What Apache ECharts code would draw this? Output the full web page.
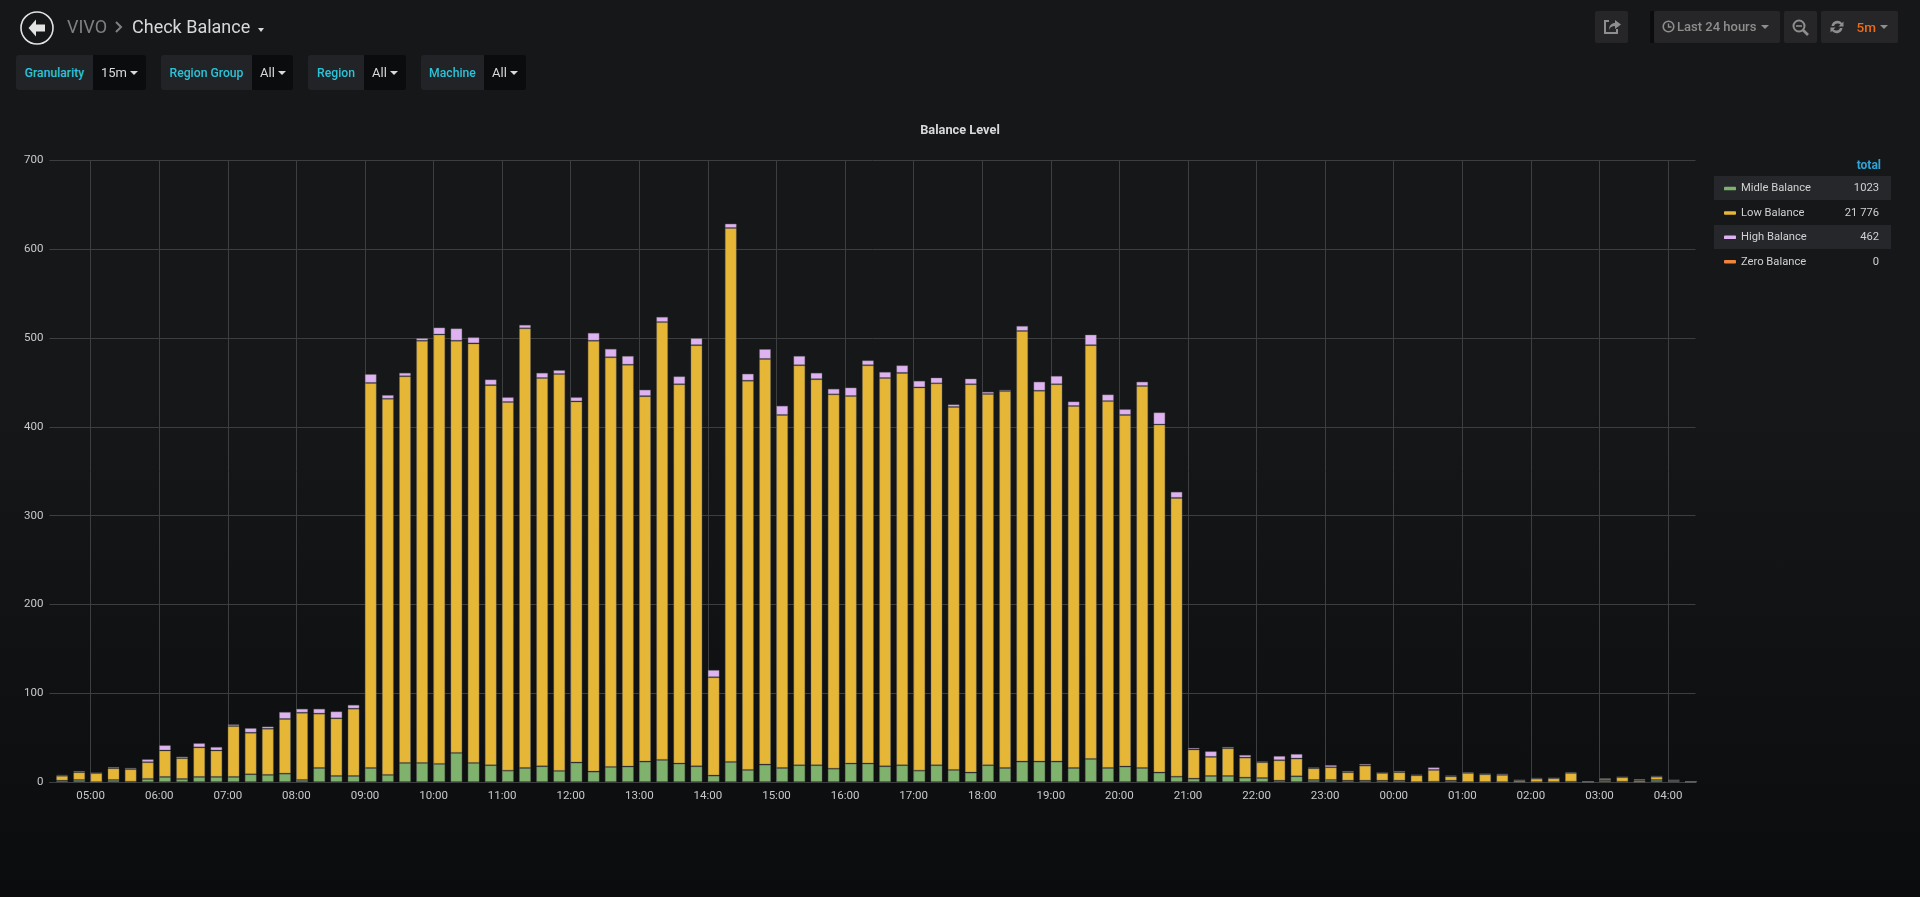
<!DOCTYPE html>
<html><head><meta charset="utf-8"><title>Check Balance</title>
<script src="https://cdn.jsdelivr.net/npm/echarts@6/dist/echarts.min.js"></script>
<style>
html,body{margin:0;padding:0;width:1920px;height:897px;overflow:hidden;background:linear-gradient(#161719 0,#161719 45%,#0b0c0e 100%);font-family:Roboto,sans-serif}
#chart{position:absolute;left:0;top:0;width:1920px;height:897px}
.a{position:absolute;white-space:nowrap}
.btn{position:absolute;top:11px;height:32px;background:#262628;border-radius:2px;color:#8e8e8e;font-size:13px;font-weight:500;line-height:32px}
.lab{position:absolute;top:55px;height:35px;line-height:36px;background:#212327;border-radius:3px 0 0 3px;color:#2cc3d8;font-size:12.2px;font-weight:500;text-align:center}
.val{position:absolute;top:55px;height:35px;line-height:36px;background:#0b0c0e;border-radius:0 3px 3px 0;color:#d8d9da;font-size:13px;padding-left:8px;box-sizing:border-box}
.car{display:inline-block;width:0;height:0;border-left:4px solid transparent;border-right:4px solid transparent;border-top:4px solid currentColor;vertical-align:2px;margin-left:3px}
.stripe{position:absolute;left:1714px;width:177px;height:24px;background:#26272a}
</style></head><body>
<div class="stripe" style="top:176px"></div>
<div class="stripe" style="top:225px"></div>
<div id="chart"></div>

<svg class="a" style="left:19px;top:10px" width="36" height="36" viewBox="0 0 36 36"><circle cx="18" cy="18" r="16" fill="none" stroke="#e3e3e3" stroke-width="1.6"/><path d="M17 9.5 L9.5 18 L17 26.5 L17 21.5 L26 21.5 L26 14.5 L17 14.5 Z" fill="#e3e3e3"/></svg>
<div class="a" style="left:67px;top:16px;font-size:18px;color:#808080;line-height:22px">VIVO</div>
<svg class="a" style="left:114px;top:20px" width="10" height="14" viewBox="0 0 10 14"><path d="M2 2 L7 7 L2 12" fill="none" stroke="#808080" stroke-width="2"/></svg>
<div class="a" style="left:132px;top:16px;font-size:18px;color:#d8d9da;line-height:22px">Check Balance</div>
<div class="a" style="left:258px;top:28px;width:0;height:0;border-left:3.5px solid transparent;border-right:3.5px solid transparent;border-top:4px solid #d8d9da"></div>

<div class="lab" style="left:16px;width:77px">Granularity</div><div class="val" style="left:93px;width:53px">15m<span class="car"></span></div>
<div class="lab" style="left:161px;width:91px">Region Group</div><div class="val" style="left:252px;width:41px">All<span class="car"></span></div>
<div class="lab" style="left:308px;width:56px">Region</div><div class="val" style="left:364px;width:42px">All<span class="car"></span></div>
<div class="lab" style="left:421px;width:63px">Machine</div><div class="val" style="left:484px;width:42px">All<span class="car"></span></div>

<div class="btn" style="left:1595px;width:33px"><svg width="33" height="32" viewBox="0 0 33 32"><path d="M14 10 H10 V22 H22 V18" fill="none" stroke="#8e8e8e" stroke-width="2"/><path d="M14 19 C14 14 17 12 20 12 V9 L26 13.5 L20 18 V15 C17 15 15 16 14 19 Z" fill="#8e8e8e"/></svg></div>
<div class="a" style="left:1650px;top:11px;width:4px;height:32px;background:#0b0c0e"></div>
<div class="btn" style="left:1654px;width:126px"><svg style="position:absolute;left:8px;top:9px" width="13" height="13" viewBox="0 0 13 13"><circle cx="6.5" cy="6.5" r="5.3" fill="none" stroke="#8e8e8e" stroke-width="1.6"/><path d="M6.5 3.5 V7 H9.5" fill="none" stroke="#8e8e8e" stroke-width="1.4"/></svg><span style="position:absolute;left:23px">Last 24 hours</span><span class="car" style="position:absolute;left:104px;top:14px"></span></div>
<div class="btn" style="left:1784px;width:33px"><svg width="33" height="32" viewBox="0 0 33 32"><circle cx="15" cy="15" r="5.5" fill="none" stroke="#8e8e8e" stroke-width="2"/><path d="M12 15 H18" stroke="#8e8e8e" stroke-width="1.6"/><path d="M19 19 L24 24" stroke="#8e8e8e" stroke-width="2.6"/></svg></div>
<div class="btn" style="left:1821px;width:77px"><svg style="position:absolute;left:8px;top:8px" width="16" height="16" viewBox="0 0 16 16"><path d="M2.5 7 A6 6 0 0 1 13 4 L14.5 2.5 V7.5 H9.5 L11.5 5.5 A4 4 0 0 0 5 7 Z M13.5 9 A6 6 0 0 1 3 12 L1.5 13.5 V8.5 H6.5 L4.5 10.5 A4 4 0 0 0 11 9 Z" fill="#8e8e8e"/></svg><span style="position:absolute;left:35.5px;color:#ee6c16;font-size:13.5px">5m</span><span class="car" style="position:absolute;left:56px;top:14px"></span></div>

<div class="a" style="left:1840px;width:41px;top:158px;text-align:right;font-size:12px;font-weight:700;color:#2ca5d8;line-height:14px">total</div>

<script>
const seriesNames = ['Midle Balance', 'Low Balance', 'High Balance', 'Zero Balance'];
const legendTotals = ['1023', '21 776', '462', '0'];
const seriesColors = ['#7EB26D', '#E6B636', '#DFB3F1', '#EF843C'];
const yTicks = { min: 0, max: 700, interval: 100 };

const midle = [1.5,2.3,0,2.3,0.4,3.4,5.7,3.4,5.7,5.7,5.7,8.7,8,9.4,2.3,15.8,6.8,6.8,
 15.8,8,21.5,21.5,20.4,32.8,21.5,18.9,12.8,15.8,17.7,12.5,21.9,11.7,17,17.4,23,24.9,20.8,17.7,7.2,22.6,
 13.6,19.6,15.8,18.9,18.9,15,20.8,20.8,17.7,18.9,12.8,18.9,13.6,10.6,18.9,15.8,23,23,23,15.8,26,15.8,17.4,15.8,10.6,6,
 3.8,6.8,6.8,4.9,4.5,1.5,6.4,2.3,2.3,1.5,1.5,1.5,1.5,0,0.4,1.5,0,0,0,0,0,0,0.4,0,1.5,0.4,0,2.3,0.8,0];
const low = [5.5,8.7,10,13.2,14.1,18.9,29.8,23.4,33.3,29.8,57.3,46.8,52,61.6,75.7,61.2,64.9,75.8,
 433.7,423.6,435.5,475.5,483.6,464.2,472.5,428.1,415.2,495.2,437.3,447,406.7,485.3,461.4,452.6,411.6,493.1,427.2,474.3,110.8,601.4,
 438.4,456.9,397.6,450.5,434.8,421.6,413.9,448.6,437.3,441.9,431.6,430.1,408.8,437.4,418.1,424.5,485,417.7,425,407.7,466,413.2,396,430.2,392,314,
 32.8,21.5,31.2,22.6,17.8,23,20,13.2,14.3,9.5,17,8.7,9.5,7.5,13.2,4.9,10.2,8.7,8,1.9,3.8,4.2,9.8,0.4,1.9,4.9,1.9,3.7,1.1,0.4];
const high = [1,1.5,0.3,1.5,1.5,3.4,6,1.9,4.8,4.1,2,5.3,2.6,8,4.6,5.6,7.9,4.4,
 10,4.4,4,3,8,14,7,6.5,5.5,4,6,4.5,4.9,9,9.6,10,7.4,6,9,8,8.3,5,
 8,11.2,10.5,10.6,7.3,6.4,9.7,5.6,7,8.6,7.6,6.6,3,6.5,2.6,1.5,5.8,10.3,9.5,5.2,12,7.6,6.6,5,13.8,7,
 1.9,6.4,1.6,3.1,1.1,4.9,5.3,1.1,2.6,1.5,1.9,0.2,1.5,0.8,3,1.1,1.1,0.7,1.4,0.4,0.7,0.3,1.1,0.1,1.1,0.4,1.5,0.8,0.4,0.1];
const zero = midle.map(() => 0);

// 24 h window at one-minute resolution, starting 04:24; bars start at 04:30, one every 15 minutes
const windowStartMinute = 4 * 60 + 24, windowMinutes = 1440;
const firstBucketOffset = 6, bucketMinutes = 15, barCentreShift = 5;
const hhmm = m => { m = m % 1440; return String(Math.floor(m / 60)).padStart(2, '0') + ':' + String(m % 60).padStart(2, '0'); };
const minuteCats = Array.from({ length: windowMinutes + 1 }, (_, i) => i === windowMinutes ? 'end' : hhmm(windowStartMinute + i));
const pairs = arr => arr.map((v, i) => [firstBucketOffset + barCentreShift + i * bucketMinutes, v]);
const onHour = (i, name) => name.endsWith(':00');

const chart = echarts.init(document.getElementById('chart'), null, { renderer: 'canvas' });
const gridC = '#3c3e40', txt = '#c8c9ca';
const values = [midle, low, high, zero];
chart.setOption({
  animation: false,
  backgroundColor: 'transparent',
  textStyle: { fontFamily: 'Roboto' },
  title: { text: 'Balance Level', left: 955, top: 118, textAlign: 'center',
    textStyle: { color: '#d8d9da', fontSize: 12.8, fontWeight: 700, fontFamily: 'Roboto', lineHeight: 15 } },
  legend: {
    orient: 'vertical', left: 1724 - 5, top: 176.5, itemWidth: 12, itemHeight: 3.5, itemGap: 10.4,
    icon: 'roundRect', selectedMode: false, data: seriesNames, itemStyle: { borderWidth: 0 },
    formatter: n => `{n|${n}}{v|${legendTotals[seriesNames.indexOf(n)]}}`,
    textStyle: { color: '#d0d1d2', fontFamily: 'Roboto', fontSize: 11.2, lineHeight: 14,
      rich: { n: { width: 96, color: '#d0d1d2', fontSize: 11.2, fontFamily: 'Roboto' },
              v: { width: 42, align: 'right', color: '#d0d1d2', fontSize: 11.2, fontFamily: 'Roboto' } } }
  },
  grid: { left: 49.5, right: 224.5, top: 160.5, bottom: 115, containLabel: false },
  xAxis: {
    type: 'category', data: minuteCats, boundaryGap: false,
    axisLine: { show: true, lineStyle: { color: gridC, width: 1 } }, axisTick: { show: false },
    axisLabel: { color: txt, fontSize: 11.5, fontFamily: 'Roboto', margin: 8, interval: onHour, hideOverlap: false },
    splitLine: { show: true, interval: onHour, lineStyle: { color: gridC, width: 1 } }
  },
  yAxis: {
    type: 'value', min: yTicks.min, max: yTicks.max, interval: yTicks.interval,
    axisLine: { show: false }, axisTick: { show: false },
    axisLabel: { color: txt, fontSize: 11.5, fontFamily: 'Roboto', margin: 6 },
    splitLine: { show: true, lineStyle: { color: gridC, width: 1 } }
  },
  series: seriesNames.map((name, s) => ({
    name, type: 'bar', stack: 'balance', barWidth: 12, large: false,
    data: pairs(values[s]), itemStyle: { color: seriesColors[s],
      borderColor: s === 3 ? 'transparent' : 'rgba(110,110,110,0.4)', borderWidth: s === 3 ? 0 : 1 }
  }))
});
</script>
</body></html>
